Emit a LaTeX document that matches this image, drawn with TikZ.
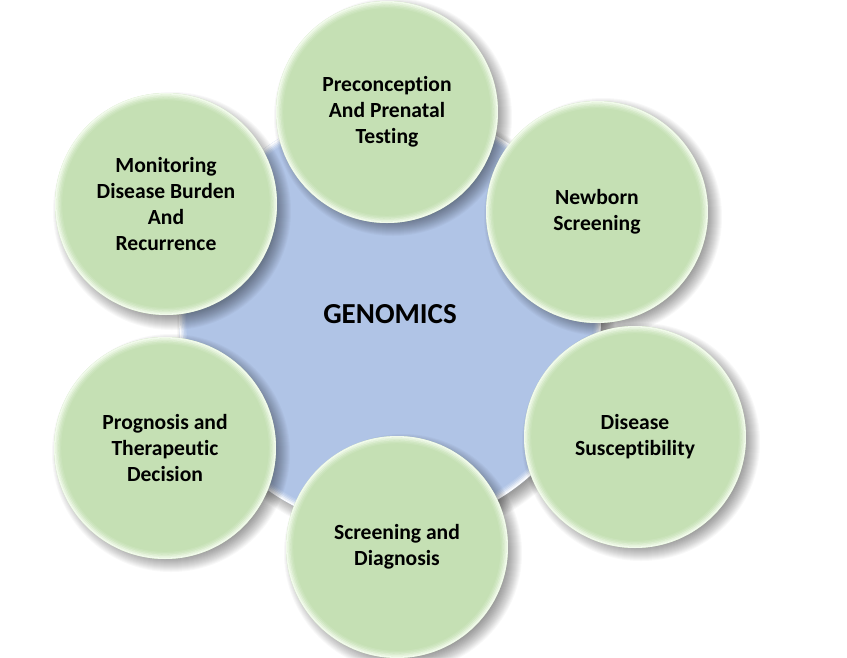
\documentclass[tikz,border=0pt]{standalone}
\usepackage{fontspec}
\setmainfont{Carlito}[Ligatures=NoCommon, RawFeature=-liga]
\definecolor{leaf}{HTML}{C5E0B4}
\definecolor{sky}{HTML}{B0C4E6}
\definecolor{rimgreen}{HTML}{F4FCEE}
\newcommand\myrim[3]{%
  \foreach \k/\o in {0.8/0.95,2.2/0.7,3.6/0.45,5/0.25,6.4/0.12}
    \draw[#3, line width=1.6pt, opacity=\o] (#1) circle[radius={(#2-\k)*1pt}];}
\newcommand\myshadow[2]{%
  \foreach \k in {0,...,15}
    \fill[black, opacity=0.028] ([xshift=6pt,yshift=-7pt]#1) circle[radius={(#2-7+\k)*1pt}];}
\begin{document}
\begin{tikzpicture}[x=1pt,y=-1pt,
  bubble/.style={circle, fill=leaf, minimum size=222pt, inner sep=0pt, align=center,
    font=\bfseries\fontsize{21.6}{26}\selectfont},
  hub/.style={circle, fill=sky, minimum size=422pt, inner sep=0pt}]
\useasboundingbox (0,0) rectangle (847,657);
\fill[white] (0,0) rectangle (847,657);
\coordinate (chub) at (390,318);
\coordinate (cpre) at (387,110);
\coordinate (cnew) at (597,210);
\coordinate (cdis) at (635,435);
\coordinate (cscr) at (397,546);
\coordinate (cpro) at (165,446);
\coordinate (cmon) at (166,204);
\myshadow{chub}{211}
\node[hub] (hub) at (chub) {};
\myrim{chub}{211}{white}
\node[font=\bfseries\fontsize{29}{34}\selectfont] (gen) at (390,314) {GENOMICS};
\foreach \n in {cpre,cnew,cdis,cscr,cpro,cmon} {\myshadow{\n}{111}}
\node[bubble] (pre) at ([yshift=-2pt]cpre) {Preconception\\And Prenatal\\Testing};
\node[bubble] (new) at ([yshift=-2pt]cnew) {Newborn\\Screening};
\node[bubble] (dis) at ([yshift=-2pt]cdis) {Disease\\Susceptibility};
\node[bubble] (scr) at ([yshift=-1pt]cscr) {Screening and\\Diagnosis};
\node[bubble] (pro) at ([yshift=-2pt]cpro) {Prognosis and\\Therapeutic\\Decision};
\node[bubble] (mon) at (cmon) {Monitoring\\Disease Burden\\And\\Recurrence};
\foreach \n in {pre,new,dis,scr,pro,mon} {\myrim{\n.center}{111}{rimgreen}}
\end{tikzpicture}
\end{document}
